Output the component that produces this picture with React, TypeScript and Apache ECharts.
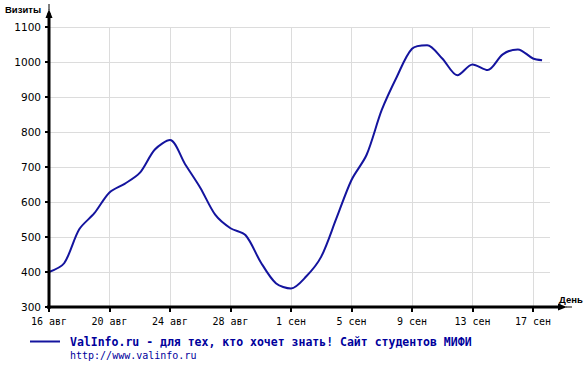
import React, { useEffect, useRef } from "react";
import * as echarts from "echarts";

const tickLabels = ["16 авг", "20 авг", "24 авг", "28 авг", "1 сен", "5 сен", "9 сен", "13 сен", "17 сен"];
const dayOffsets = [0, 1, 2, 3, 4, 5, 6, 7, 8, 9, 10, 11, 12, 13, 14, 15, 16, 17, 18, 19, 20, 21, 22, 23, 24, 25, 26, 27, 28, 29, 30, 31, 32, 32.6];
const visits = [400, 425, 522, 568, 627, 652, 683, 750, 777, 708, 641, 563, 525, 505, 428, 368, 353, 387, 444, 553, 663, 735, 863, 958, 1038, 1048, 1010, 962, 993, 977, 1022, 1036, 1010, 1005];
const seriesName = "ValInfo.ru - для тех, кто хочет знать! Сайт студентов МИФИ";
const urlText = "http://www.valinfo.ru";
const yTitle = "Визиты";
const xTitle = "День";

export default function App() {
  const ref = useRef<HTMLDivElement>(null);
  useEffect(() => {
    document.body.style.margin = "0";
    if (!ref.current) return;
    const chart = echarts.init(ref.current, null, { renderer: "svg" });
    const L = 49, T = 27, B = 307;
    const axisColor = "#000";
    chart.setOption({
      animation: false,
      backgroundColor: "#fff",
      grid: [
        { left: L, top: T, width: 501, height: B - T },
        { left: L, top: T, width: 484, height: B - T },
      ],
      xAxis: [
        {
          gridIndex: 0, type: "value", min: 0, max: 33.124,
          axisLine: { show: false }, axisTick: { show: false }, axisLabel: { show: false }, splitLine: { show: false },
        },
        {
          gridIndex: 1, type: "value", min: 0, max: 32, interval: 4,
          axisLine: { show: false },
          axisTick: { show: true, length: 5, lineStyle: { color: axisColor, width: 2 } },
          axisLabel: {
            formatter: (v: number) => tickLabels[Math.round(v / 4)] ?? "",
            margin: 9, fontFamily: "DejaVu Sans Mono", fontSize: 10, color: "#000",
          },
          splitLine: { show: true, lineStyle: { color: "#dcdcdc", width: 1 } },
        },
      ],
      yAxis: [
        {
          gridIndex: 0, type: "value", min: 300, max: 1100, interval: 100,
          axisLine: { show: false },
          axisTick: { show: true, length: 4, lineStyle: { color: axisColor, width: 2 } },
          axisLabel: {
            formatter: (v: number) => String(v),
            margin: 8, fontFamily: "DejaVu Sans", fontSize: 10.5, color: "#000",
          },
          splitLine: { show: true, lineStyle: { color: "#dcdcdc", width: 1 } },
        },
        { gridIndex: 1, type: "value", min: 300, max: 1100, show: false, splitLine: { show: false } },
      ],
      legend: {
        left: 30, top: 335, padding: 0, icon: "rect", itemWidth: 30, itemHeight: 2,
        selectedMode: false,
        data: [seriesName],
        textStyle: {
          fontFamily: "DejaVu Sans Mono", fontWeight: "bold", fontSize: 11.5, color: "#00009c",
          padding: [0, 0, 0, 5], lineHeight: 13,
        },
      },
      series: [
        {
          name: seriesName, type: "line", xAxisIndex: 0, yAxisIndex: 0,
          smooth: 0.3, showSymbol: false, symbol: "none",
          lineStyle: { color: "#14149e", width: 2 },
          itemStyle: { color: "#14149e" },
          data: dayOffsets.map((d, i) => [d, visits[i]]),
        },
      ],
      graphic: [
        { type: "line", z: 100, shape: { x1: L, y1: B + 2, x2: L, y2: 13 }, style: { stroke: axisColor, lineWidth: 3 } },
        { type: "polygon", z: 100, shape: { points: [[45.5, 18], [52.5, 18], [49, 9]] }, style: { fill: axisColor } },
        { type: "line", z: 100, shape: { x1: L, y1: 10, x2: L, y2: 4 }, style: { stroke: axisColor, lineWidth: 1 } },
        { type: "line", z: 100, shape: { x1: L - 2, y1: B, x2: 562, y2: B }, style: { stroke: axisColor, lineWidth: 3 } },
        { type: "polygon", z: 100, shape: { points: [[558, 303.5], [558, 310.5], [567, 307]] }, style: { fill: axisColor } },
        { type: "line", z: 100, shape: { x1: 566, y1: B, x2: 572, y2: B }, style: { stroke: axisColor, lineWidth: 1 } },
        {
          type: "text", z: 100, x: 5, y: 9,
          style: { text: yTitle, font: 'bold 9.5px "Liberation Sans"', fill: "#000", align: "left", verticalAlign: "middle" },
        },
        {
          type: "text", z: 100, x: 559, y: 299,
          style: { text: xTitle, font: 'bold 9.5px "Liberation Sans"', fill: "#000", align: "left", verticalAlign: "middle" },
        },
        {
          type: "text", z: 100, x: 70, y: 355,
          style: { text: urlText, font: '10px "DejaVu Sans Mono"', fill: "#00009c", align: "left", verticalAlign: "middle" },
        },
      ],
    });
    return () => chart.dispose();
  }, []);
  return <div ref={ref} style={{ width: 588, height: 365 }} />;
}
